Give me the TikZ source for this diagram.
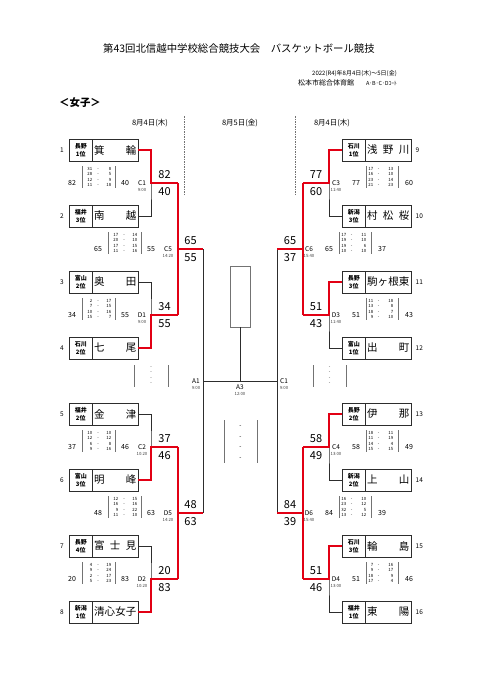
\documentclass[tikz,border=0pt]{standalone}
\usepackage{fontspec}
\setmainfont{Noto Sans CJK JP}
\usetikzlibrary{positioning}

\definecolor{winred}{RGB}{226,0,20}
\definecolor{linegray}{RGB}{45,45,45}

% quarter score rows (left / right side)
\newcommand\ql[2]{\makebox[7pt][r]{#1}\makebox[12pt]{-}\makebox[7pt][r]{#2}}
\newcommand\qr[2]{\makebox[5pt][r]{#1}\makebox[11pt]{-}\makebox[9pt][r]{#2}}

\tikzset{
  prefbox/.style={draw=linegray, line width=1pt, minimum width=23.5pt, minimum height=22pt,
    inner sep=0pt, outer sep=0pt, align=center, font=\fontsize{6}{8}\selectfont\bfseries},
  namebox/.style={draw=linegray, line width=1pt, minimum width=45.5pt, minimum height=22pt,
    inner sep=0pt, outer sep=0pt, font=\fontsize{10.5}{12}\selectfont},
  seed/.style={font=\fontsize{6.5}{7}\selectfont, inner sep=0pt},
  bline/.style={draw=linegray, line width=0.9pt},
  rline/.style={draw=winred, line width=1.3pt},
  jscore/.style={font=\fontsize{11}{12}\selectfont, inner sep=0pt},
  bscore/.style={font=\fontsize{7}{8}\selectfont, inner sep=0pt},
  game/.style={font=\fontsize{6.5}{7}\selectfont, inner sep=0pt},
  gtime/.style={font=\fontsize{4.3}{5}\selectfont, inner sep=0pt, text=black!75},
  qtab/.style={font=\fontsize{4.3}{5.4}\selectfont, align=left, inner sep=0pt, anchor=west},
  qdash/.style={font=\fontsize{4.3}{5.4}\selectfont, align=center, inner sep=0pt},
  qbar/.style={draw=black!55, line width=0.6pt},
  day/.style={font=\fontsize{7.5}{8}\selectfont, inner sep=0pt},
  sepline/.style={draw=black!55, line width=0.7pt, dash pattern=on 1.5pt off 1pt},
}

\begin{document}
\begin{tikzpicture}[x=1pt,y=-1pt]
  \useasboundingbox (0,0) rectangle (481,680);
  % heading
  \node[font=\fontsize{10.4}{12}\selectfont, inner sep=0pt] (title) at (239,49)
    {第43回北信越中学校総合競技大会　バスケットボール競技};
  \node[font=\fontsize{6}{7}\selectfont, inner sep=0pt, anchor=east] (date) at (397,74)
    {2022(R4)年8月4日(木)～5日(金)};
  \node[font=\fontsize{7}{8}\selectfont, inner sep=0pt, anchor=east] (venue) at (397,83)
    {松本市総合体育館\hspace{12pt}{\fontsize{5.5}{6}\selectfont A･B･C･Dｺｰﾄ}};
  \node[font=\fontsize{10.4}{12}\selectfont\bfseries, inner sep=0pt, anchor=west] (girls) at (59,103) {＜女子＞};
  % day headers
  \node[day] (dayL) at (150,123) {8月4日(木)};
  \node[day] (dayC) at (240,123) {8月5日(金)};
  \node[day] (dayR) at (332,123) {8月4日(木)};
  \draw[sepline] (184,116) -- (184,194);
  \draw[sepline] (295,116) -- (295,194);

  % teams, left side
  \foreach \n/\y/\pf/\rk/\nm in {1/150/長野/1位/{箕\hfill 輪}, 2/216/福井/3位/{南\hfill 越},
      3/282/富山/2位/{奥\hfill 田}, 4/348/石川/2位/{七\hfill 尾}, 5/414/福井/2位/{金\hfill 津},
      6/480/富山/3位/{明\hfill 峰}, 7/546/長野/4位/{富\hfill 士\hfill 見},
      8/612/新潟/1位/{清\hfill 心\hfill 女\hfill 子}} {
    \node[prefbox] (p\n) at (80.75,\y) {\pf\\\rk};
    \node[namebox, right=0pt of p\n] (t\n) {\makebox[42.5pt][s]{\nm}};
    \node[seed] (n\n) at (62,\y) {\n};
  }
  % teams, right side
  \foreach \n/\y/\pf/\rk/\nm in {9/150/石川/1位/{浅\hfill 野\hfill 川}, 10/216/新潟/3位/{村\hfill 松\hfill 桜},
      11/282/長野/3位/{駒\hfill ヶ\hfill 根\hfill 東}, 12/348/富山/1位/{出\hfill 町},
      13/414/長野/2位/{伊\hfill 那}, 14/480/新潟/2位/{上\hfill 山},
      15/546/石川/3位/{輪\hfill 島}, 16/612/福井/1位/{東\hfill 陽}} {
    \node[prefbox] (p\n) at (353.75,\y) {\pf\\\rk};
    \node[namebox, right=0pt of p\n] (t\n) {\makebox[42.5pt][s]{\nm}};
    \node[seed, anchor=west] (n\n) at (415.5,\y) {\n};
  }

  % junction points
  \foreach \g/\x/\y in {gC1/151/183, gD1/151/315, gC2/151/447, gD2/151/579,
      oC1/178/183, oD1/178/315, oC2/178/447, oD2/178/579,
      gC5/178/249, gD5/178/513, oC5/203/249, oD5/203/513, gA1/203/381,
      gC3/329/183, gD3/329/315, gC4/329/447, gD4/329/579,
      oC3/303/183, oD3/303/315, oC4/303/447, oD4/303/579,
      gC6/303/249, gD6/303/513, oC6/277/249, oD6/277/513, gSC1/277/381, gA3/240/381}
    \coordinate (\g) at (\x,\y);

  % champion box
  \node[draw=black!55, line width=0.6pt, minimum width=20pt, minimum height=61pt, inner sep=0pt]
    (champ) at (240,296.5) {};

  % black bracket
  \draw[bline] (t1.east) -| (gC1) |- (t2.east);
  \draw[bline] (t3.east) -| (gD1) |- (t4.east);
  \draw[bline] (t5.east) -| (gC2) |- (t6.east);
  \draw[bline] (t7.east) -| (gD2) |- (t8.east);
  \draw[bline] (p9.west) -| (gC3) |- (p10.west);
  \draw[bline] (p11.west) -| (gD3) |- (p12.west);
  \draw[bline] (p13.west) -| (gC4) |- (p14.west);
  \draw[bline] (p15.west) -| (gD4) |- (p16.west);
  \draw[bline] (oC5) -- (oD5);
  \draw[bline] (oC6) -- (oD6);
  \draw[bline] (gA1) -- (gSC1);
  \draw[bline] (gA3) -- (champ.south);

  % winners in red
  \draw[rline] (t1.east) -| (gC1) -- (oC1);
  \draw[rline] (t4.east) -| (gD1) -- (oD1);
  \draw[rline] (oC1) -- (oD1);
  \draw[rline] (gC5) -- (oC5);
  \draw[rline] (t6.east) -| (gC2) -- (oC2);
  \draw[rline] (t8.east) -| (gD2) -- (oD2);
  \draw[rline] (oC2) -- (oD2);
  \draw[rline] (gD5) -- (oD5);
  \draw[rline] (p9.west) -| (gC3) -- (oC3);
  \draw[rline] (p11.west) -| (gD3) -- (oD3);
  \draw[rline] (oC3) -- (oD3);
  \draw[rline] (gC6) -- (oC6);
  \draw[rline] (p13.west) -| (gC4) -- (oC4);
  \draw[rline] (p15.west) -| (gD4) -- (oD4);
  \draw[rline] (oC4) -- (oD4);
  \draw[rline] (gD6) -- (oD6);

  % scores at the junctions
  \foreach \x/\y/\sa/\sb [count=\i] in {164.5/183/82/40, 164.5/315/34/55, 164.5/447/37/46,
      164.5/579/20/83, 190.5/249/65/55, 190.5/513/48/63, 316/183/77/60, 316/315/51/43,
      316/447/58/49, 316/579/51/46, 290/249/65/37, 290/513/84/39} {
    \node[jscore] (ja\i) at (\x,\y-8.5) {\sa};
    \node[jscore] (jb\i) at (\x,\y+8.5) {\sb};
  }

  % game details, left side
  \foreach \bx/\y/\sa/\sb/\gm/\tm/\qq [count=\i] in {
      82/183/82/40/C1/9:00/{\ql{31}{8}\\\ql{28}{5}\\\ql{12}{9}\\\ql{11}{18}},
      82/315/34/55/D1/9:00/{\ql{2}{17}\\\ql{7}{15}\\\ql{10}{16}\\\ql{15}{7}},
      82/447/37/46/C2/10:20/{\ql{10}{10}\\\ql{12}{12}\\\ql{6}{8}\\\ql{9}{16}},
      82/579/20/83/D2/10:20/{\ql{4}{19}\\\ql{9}{24}\\\ql{2}{17}\\\ql{5}{23}},
      108/249/65/55/C5/14:20/{\ql{17}{14}\\\ql{20}{10}\\\ql{17}{15}\\\ql{11}{16}},
      108/513/48/63/D5/14:20/{\ql{12}{15}\\\ql{16}{16}\\\ql{9}{22}\\\ql{11}{10}}} {
    \node[bscore] (la\i) at (\bx-10,\y) {\sa};
    \node[bscore] (lb\i) at (\bx+43,\y) {\sb};
    \node[qtab] (lq\i) at (\bx+3,\y-6) {\qq};
    \draw[qbar] (\bx,\y-17) -- (\bx,\y+5);
    \draw[qbar] (\bx+33,\y-17) -- (\bx+33,\y+5);
    \node[game] (lg\i) at (\bx+60,\y) {\gm};
    \node[gtime, below=3pt of lg\i] (lt\i) {\tm};
  }
  % game details, right side
  \foreach \bx/\y/\sa/\sb/\gm/\tm/\qq [count=\i] in {
      366/183/77/60/C3/11:40/{\qr{17}{13}\\\qr{16}{10}\\\qr{23}{14}\\\qr{21}{23}},
      366/315/51/43/D3/11:40/{\qr{11}{18}\\\qr{13}{8}\\\qr{18}{7}\\\qr{9}{10}},
      366/447/58/49/C4/13:00/{\qr{18}{11}\\\qr{11}{19}\\\qr{14}{4}\\\qr{15}{15}},
      366/579/51/46/D4/13:00/{\qr{7}{16}\\\qr{9}{17}\\\qr{18}{9}\\\qr{17}{4}},
      339/249/65/37/C6/15:40/{\qr{17}{11}\\\qr{19}{10}\\\qr{19}{6}\\\qr{10}{10}},
      339/513/84/39/D6/15:40/{\qr{16}{10}\\\qr{23}{12}\\\qr{32}{5}\\\qr{13}{12}}} {
    \node[game] (rg\i) at (\bx-30,\y) {\gm};
    \node[gtime, below=3pt of rg\i] (rt\i) {\tm};
    \node[bscore] (ra\i) at (\bx-10,\y) {\sa};
    \node[bscore] (rb\i) at (\bx+43,\y) {\sb};
    \node[qtab] (rq\i) at (\bx+2,\y-6) {\qq};
    \draw[qbar] (\bx,\y-17) -- (\bx,\y+5);
    \draw[qbar] (\bx+32,\y-17) -- (\bx+32,\y+5);
  }

  % second day, still to be played
  \node[game] (lA1) at (196,381) {A1};
  \node[gtime, below=3pt of lA1] (tA1) {9:00};
  \node[game] (lSC1) at (284,381) {C1};
  \node[gtime, below=3pt of lSC1] (tSC1) {9:00};
  \node[game] (lA3) at (240,387) {A3};
  \node[gtime, below=3pt of lA3] (tA3) {12:00};
  \node[qdash] (qA1) at (151,376) {-\\-\\-\\-};
  \draw[qbar] (134,365) -- (134,387);
  \draw[qbar] (168,365) -- (168,387);
  \node[qdash] (qSC1) at (329.5,376) {-\\-\\-\\-};
  \draw[qbar] (313,365) -- (313,387);
  \draw[qbar] (346,365) -- (346,387);
  \node[qdash, font=\fontsize{6}{10.5}\selectfont] (qA3) at (240.5,442.5) {-\\-\\-\\-};
  \draw[qbar] (224,420) -- (224,463);
  \draw[qbar] (257,420) -- (257,463);
\end{tikzpicture}
\end{document}
